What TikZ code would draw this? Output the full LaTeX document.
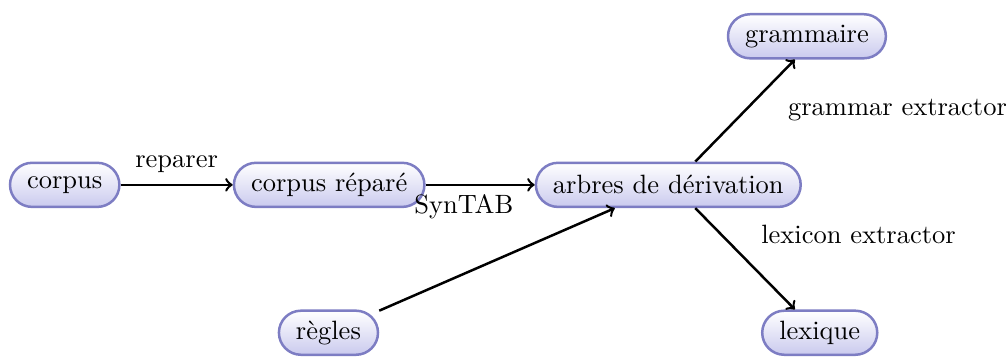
\documentclass[tikz,border=0pt]{standalone}
\usetikzlibrary{calc}
\definecolor{boxline}{RGB}{125,125,195}
\definecolor{boxshade}{RGB}{202,202,238}
\begin{document}
\begin{tikzpicture}[
    font=\fontsize{10.6pt}{13pt}\selectfont,
    step box/.style={draw=boxline, line width=1pt, rounded corners=0.31cm,
      top color=white, bottom color=boxshade,
      minimum height=0.62cm, inner xsep=0.24cm},
    arr/.style={->, line width=1pt}]
  \useasboundingbox (0,0) rectangle (14.15,5.01);
  % pipeline
  \node[step box] (corpus) at (0.91,2.41) {corpus};
  \node[step box] (repare) at (4.63,2.41) {corpus réparé};
  \node[step box] (arbres) at (9.40,2.41) {arbres de dérivation};
  % inputs and outputs
  \node[step box] (regles) at (4.62,0.33) {règles};
  \node[step box] (grammaire) at (11.35,4.50) {grammaire};
  \node[step box] (lexique) at (11.53,0.33) {lexique};
  % arrows
  \draw[arr] (corpus) -- node[above, yshift=0.04cm] {reparer} (repare);
  \draw[arr] (repare) -- node[below, pos=0.35] {SynTAB} (arbres);
  \draw[arr] (regles) -- (arbres);
  \draw[arr] ([xshift=0.38cm]arbres.north) -- node[anchor=west, xshift=0.47cm]
       {grammar extractor} ([xshift=-0.17cm]grammaire.south);
  \draw[arr] ([xshift=0.38cm]arbres.south) -- node[anchor=west, pos=0.26, xshift=0.43cm]
       {lexicon extractor} ([xshift=-0.35cm]lexique.north);
\end{tikzpicture}
\end{document}
